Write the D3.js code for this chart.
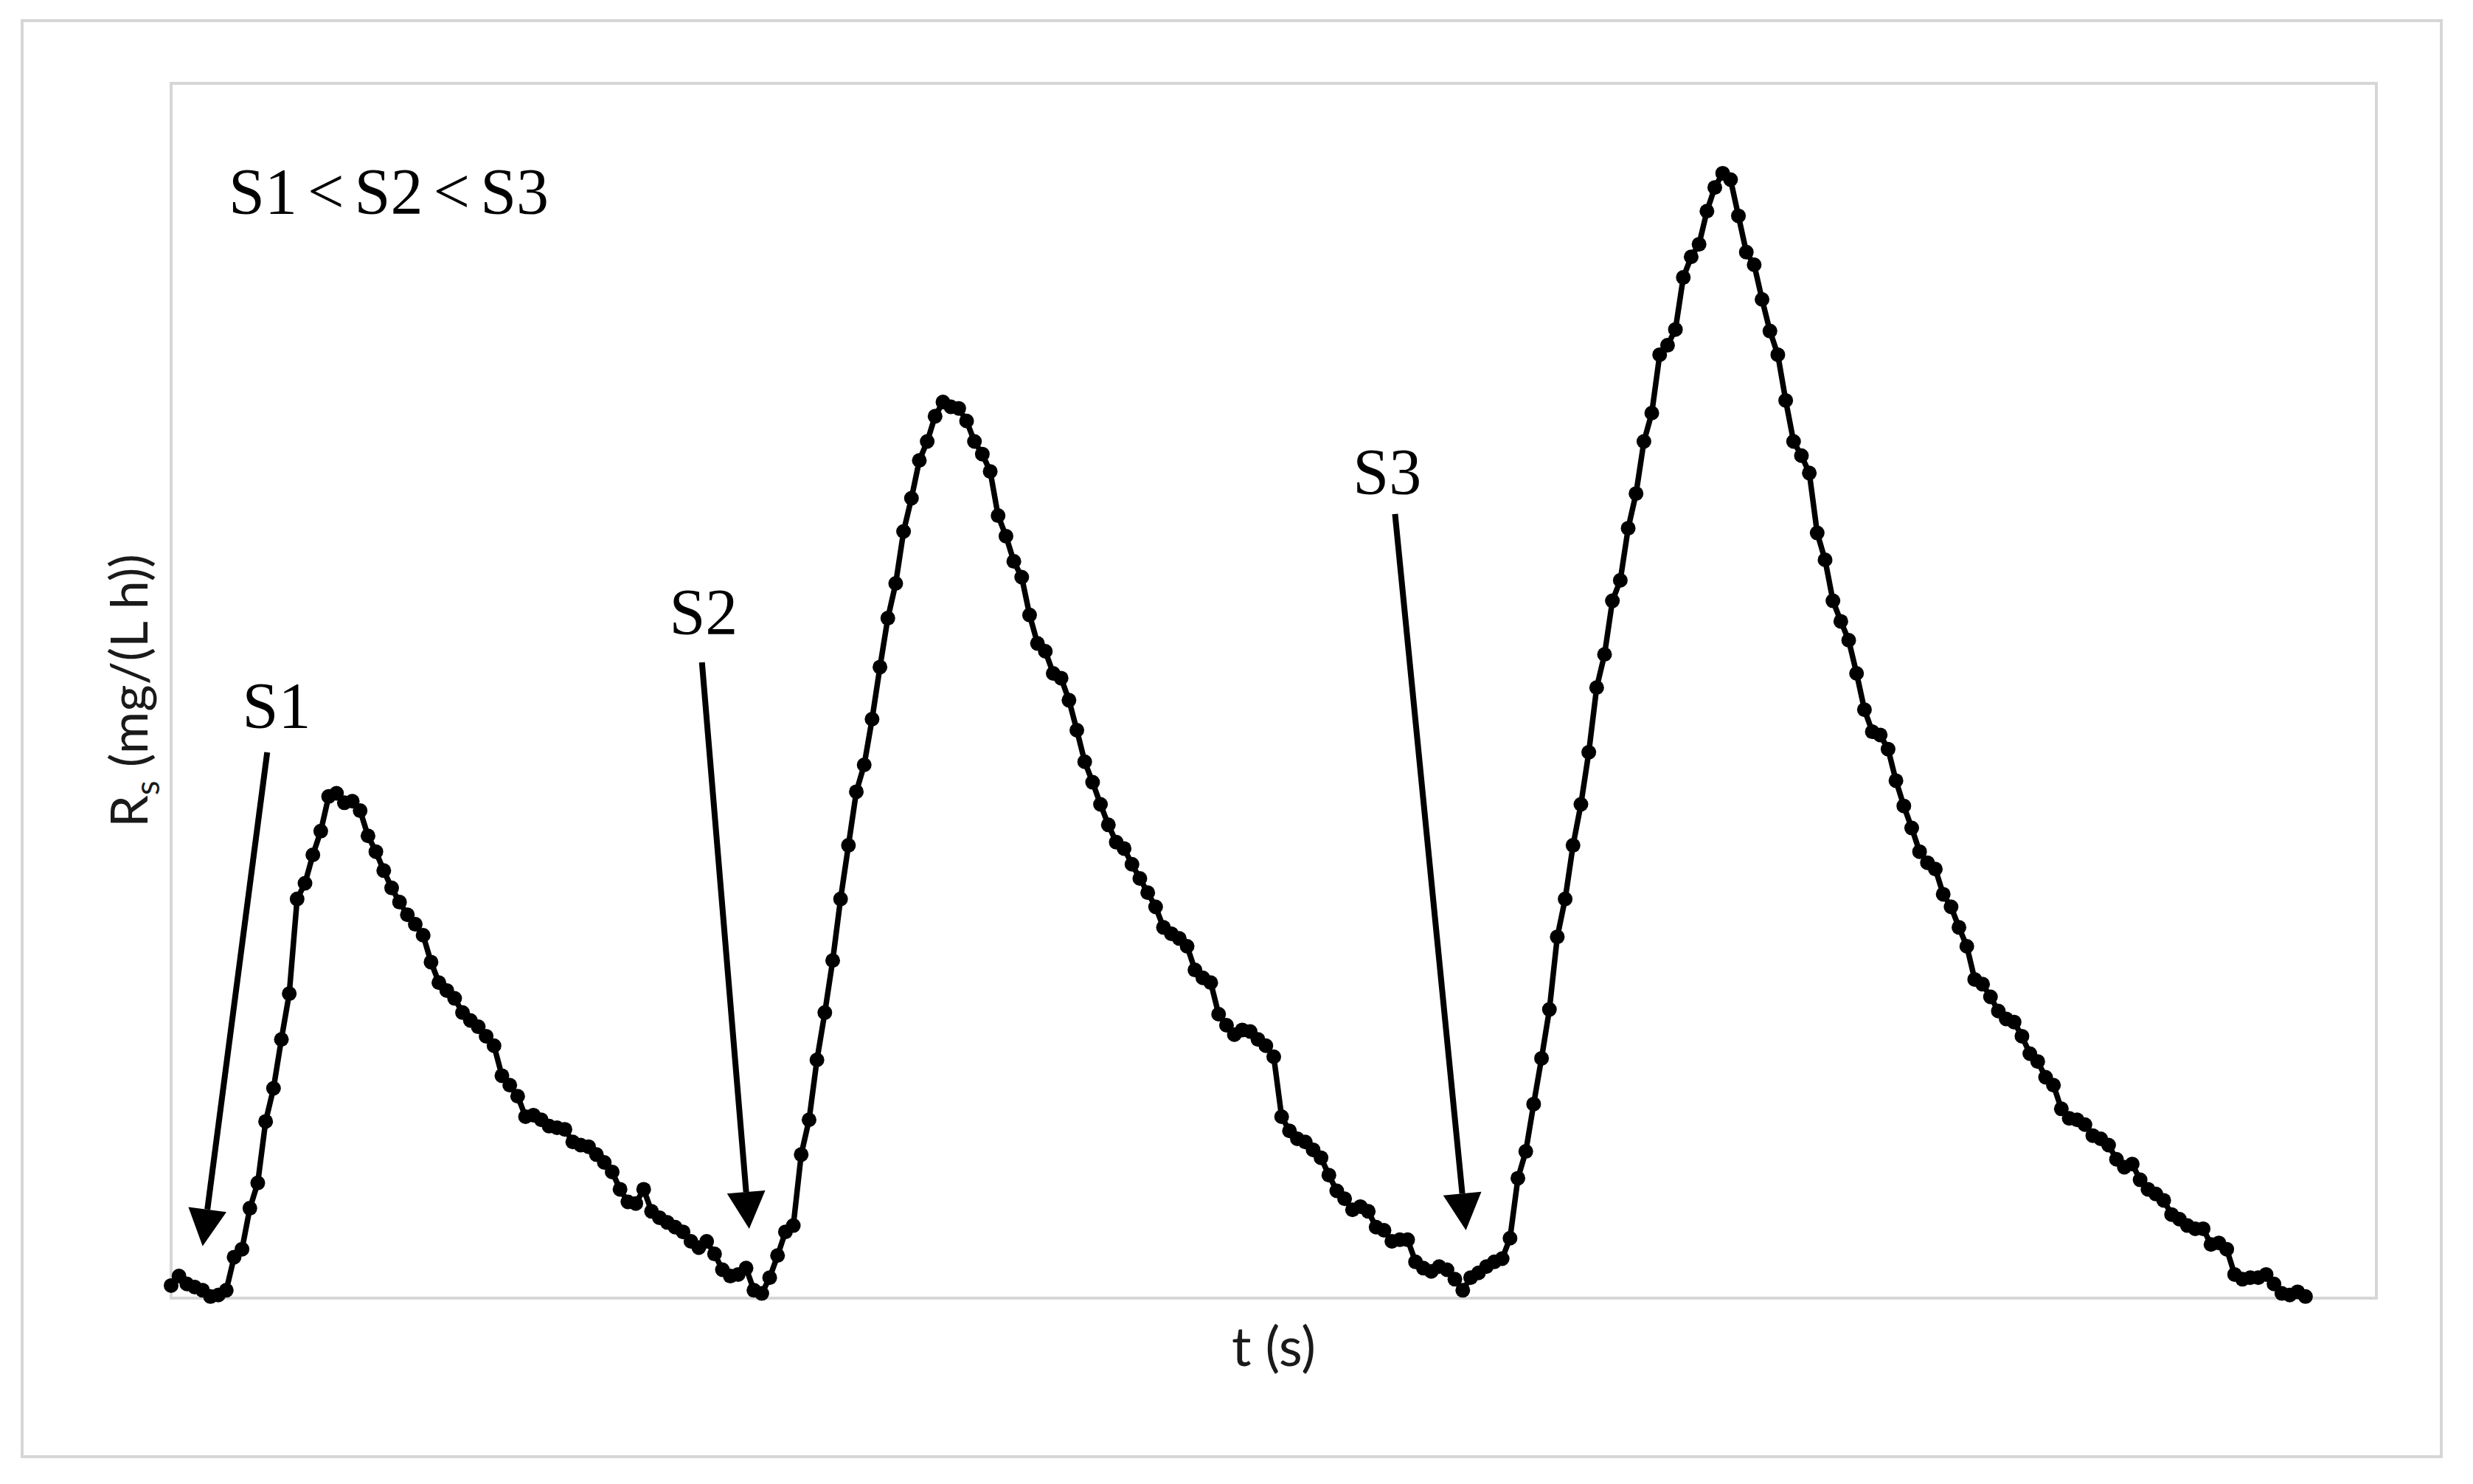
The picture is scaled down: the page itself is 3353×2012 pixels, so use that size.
<!DOCTYPE html>
<html>
<head>
<meta charset="utf-8">
<script src="https://cdn.jsdelivr.net/npm/d3@7/dist/d3.min.js"></script>
<style>
  body { margin: 0; background: #fff; }
</style>
</head>
<body>
<div id="chart"></div>
<script>
(function(){

  //////////////////////////////////////////////////////////////
  //////////////////////// data ////////////////////////////////
  //////////////////////////////////////////////////////////////

  // sampling of the trace, seconds
  var tStep = 5;

  // Rs readings, one every tStep seconds
  var rs = [
    0.08, 0.14, 0.09, 0.07, 0.05, 0.01, 0.02, 0.05, 0.26, 0.31,
    0.57, 0.73, 1.12, 1.33, 1.64, 1.93, 2.53, 2.63, 2.81, 2.96,
    3.18, 3.20, 3.14, 3.15, 3.09, 2.93, 2.83, 2.71, 2.60, 2.51,
    2.43, 2.37, 2.30, 2.13, 2.00, 1.95, 1.90, 1.81, 1.76, 1.72,
    1.66, 1.60, 1.41, 1.35, 1.28, 1.15, 1.16, 1.13, 1.09, 1.08,
    1.07, 0.99, 0.97, 0.96, 0.91, 0.86, 0.80, 0.69, 0.61, 0.60,
    0.69, 0.55, 0.51, 0.48, 0.45, 0.42, 0.36, 0.32, 0.36, 0.28,
    0.18, 0.14, 0.15, 0.19, 0.05, 0.03, 0.13, 0.27, 0.42, 0.46,
    0.91, 1.13, 1.51, 1.81, 2.14, 2.53, 2.87, 3.21, 3.38, 3.67,
    4.00, 4.31, 4.53, 4.86, 5.07, 5.31, 5.43, 5.59, 5.68, 5.65,
    5.64, 5.56, 5.43, 5.35, 5.24, 4.96, 4.83, 4.67, 4.57, 4.33,
    4.15, 4.10, 3.96, 3.93, 3.79, 3.60, 3.40, 3.27, 3.13, 3.00,
    2.89, 2.85, 2.75, 2.66, 2.57, 2.48, 2.35, 2.31, 2.28, 2.23,
    2.08, 2.03, 2.00, 1.80, 1.73, 1.67, 1.70, 1.69, 1.64, 1.60,
    1.53, 1.15, 1.06, 1.01, 0.99, 0.94, 0.89, 0.78, 0.68, 0.63,
    0.56, 0.58, 0.55, 0.45, 0.43, 0.36, 0.37, 0.37, 0.23, 0.19,
    0.17, 0.20, 0.18, 0.12, 0.05, 0.13, 0.16, 0.20, 0.23, 0.25,
    0.38, 0.76, 0.93, 1.23, 1.52, 1.83, 2.29, 2.53, 2.87, 3.13,
    3.46, 3.87, 4.08, 4.42, 4.55, 4.88, 5.10, 5.43, 5.61, 5.98,
    6.04, 6.14, 6.47, 6.60, 6.68, 6.89, 7.04, 7.13, 7.09, 6.86,
    6.63, 6.55, 6.33, 6.13, 5.98, 5.69, 5.43, 5.34, 5.23, 4.85,
    4.68, 4.42, 4.29, 4.17, 3.96, 3.73, 3.59, 3.57, 3.48, 3.28,
    3.12, 2.98, 2.83, 2.76, 2.72, 2.56, 2.48, 2.35, 2.23, 2.02,
    1.99, 1.91, 1.82, 1.77, 1.75, 1.66, 1.55, 1.50, 1.40, 1.35,
    1.20, 1.14, 1.13, 1.10, 1.03, 1.01, 0.97, 0.88, 0.83, 0.85,
    0.75, 0.69, 0.66, 0.62, 0.53, 0.50, 0.46, 0.44, 0.44, 0.34,
    0.35, 0.31, 0.15, 0.12, 0.13, 0.13, 0.15, 0.09, 0.03, 0.02,
    0.04, 0.01
  ];

  // substrate pulses: label, label anchor, arrow tail, arrow tip  [t, Rs]
  var pulseNames = ["S1", "S2", "S3"];
  var pulseLabelAt = [[67, 3.62], [338, 4.21], [772, 5.10]];
  var pulseTail = [[61, 3.46], [337, 4.03], [777, 4.97]];
  var pulseTip = [[20, 0.33], [367, 0.44], [822, 0.43]];

  var xDomain = [0, 1400],
      yDomain = [0, 7.7];

  var series = rs.map(function(v, i){ return {t: i * tStep, v: v}; });

  //////////////////////////////////////////////////////////////
  //////////////////////// chart ///////////////////////////////
  //////////////////////////////////////////////////////////////

  var width = 3353,
      height = 2012;

  var margin = {top: 113, right: 131, bottom: 252, left: 232};

  var svg = d3.select("#chart").append("svg")
      .attr("width", width)
      .attr("height", height);

  // outer frame
  svg.append("rect")
      .attr("x", 30)
      .attr("y", 28)
      .attr("width", 3280)
      .attr("height", 1947)
      .style("fill", "none")
      .style("stroke", "#d6d6d6")
      .style("stroke-width", "4px");

  var x = d3.scaleLinear()
      .domain(xDomain)
      .range([margin.left, width - margin.right]);

  var y = d3.scaleLinear()
      .domain(yDomain)
      .range([height - margin.bottom, margin.top]);

  // plot area frame
  svg.append("rect")
      .attr("x", x(xDomain[0]))
      .attr("y", y(yDomain[1]))
      .attr("width", x(xDomain[1]) - x(xDomain[0]))
      .attr("height", y(yDomain[0]) - y(yDomain[1]))
      .style("fill", "none")
      .style("stroke", "#d6d6d6")
      .style("stroke-width", "4px");

  // axis titles
  svg.append("text")
      .attr("x", (x(xDomain[0]) + x(xDomain[1])) / 2)
      .attr("y", y(0) + 92)
      .attr("text-anchor", "middle")
      .style("font-family", "Lato, 'Open Sans', sans-serif")
      .style("font-size", "74px")
      .style("fill", "#1a1a1a")
      .text("t (s)");

  var yTitle = svg.append("text")
      .attr("transform", "translate(200," + ((y(0) + y(yDomain[1])) / 2) + ") rotate(-90)")
      .attr("text-anchor", "middle")
      .style("font-family", "Lato, 'Open Sans', sans-serif")
      .style("font-size", "70px")
      .style("fill", "#1a1a1a");
  yTitle.append("tspan").text("R");
  yTitle.append("tspan")
      .attr("dy", "16")
      .style("font-size", "46px")
      .text("s");
  yTitle.append("tspan")
      .attr("dy", "-16")
      .text(" (mg/(L h))");

  // the trace
  var valueline = d3.line()
      .x(function(d){ return x(d.t); })
      .y(function(d){ return y(d.v); });

  svg.append("path")
      .datum(series)
      .attr("d", valueline)
      .style("fill", "none")
      .style("stroke", "#000")
      .style("stroke-width", "7.5px")
      .style("stroke-linejoin", "round");

  svg.selectAll(".dot")
      .data(series)
    .enter().append("circle")
      .attr("class", "dot")
      .attr("r", 10)
      .attr("cx", function(d){ return x(d.t); })
      .attr("cy", function(d){ return y(d.v); })
      .style("fill", "#000");

  // corner note
  svg.append("text")
      .attr("x", x(xDomain[0]) + 78)
      .attr("y", 289)
      .style("font-family", "'Liberation Serif', 'Times New Roman', serif")
      .style("font-size", "88px")
      .style("word-spacing", "-8px")
      .style("fill", "#000")
      .text("S1 < S2 < S3");

  // pulse arrows
  var headLen = 50,
      headHalf = 26;

  pulseNames.forEach(function(name, i){
    var x1 = x(pulseTail[i][0]), y1 = y(pulseTail[i][1]),
        x2 = x(pulseTip[i][0]),  y2 = y(pulseTip[i][1]);
    var dx = x2 - x1, dy = y2 - y1,
        len = Math.sqrt(dx * dx + dy * dy),
        ux = dx / len, uy = dy / len;
    var bx = x2 - ux * headLen, by = y2 - uy * headLen;

    svg.append("line")
        .attr("x1", x1).attr("y1", y1)
        .attr("x2", bx).attr("y2", by)
        .style("stroke", "#000")
        .style("stroke-width", "8px");

    svg.append("path")
        .attr("d", "M" + x2 + "," + y2 +
                   "L" + (bx - uy * headHalf) + "," + (by + ux * headHalf) +
                   "L" + (bx + uy * headHalf) + "," + (by - ux * headHalf) + "Z")
        .style("fill", "#000");

    svg.append("text")
        .attr("x", x(pulseLabelAt[i][0]))
        .attr("y", y(pulseLabelAt[i][1]))
        .attr("text-anchor", "middle")
        .style("font-family", "'Liberation Serif', 'Times New Roman', serif")
        .style("font-size", "88px")
        .style("fill", "#000")
        .text(name);
  });

})();
</script>
</body>
</html>
